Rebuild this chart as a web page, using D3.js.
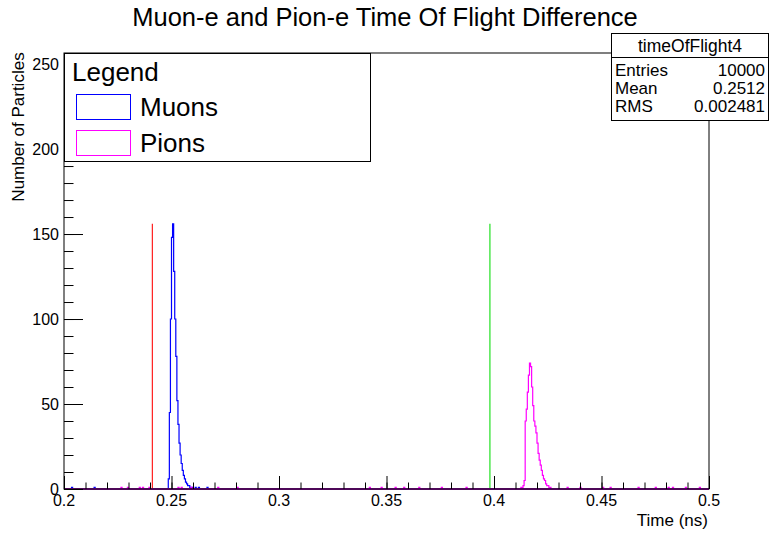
<!DOCTYPE html>
<html>
<head>
<meta charset="utf-8">
<script src="https://cdn.jsdelivr.net/npm/d3@7"></script>
<style>
  html, body { margin: 0; padding: 0; background: #fff; }
  svg { display: block; font-family: "Liberation Sans", Arial, Helvetica, sans-serif; }
</style>
</head>
<body>
<svg id="chart" width="773" height="533"></svg>
<script>
// ---------------- data ----------------
const binWidth = 0.0005;
const xDomain = [0.2, 0.5];
const yDomain = [0, 256.5];
const xMajorTicks = [0.2, 0.25, 0.3, 0.35, 0.4, 0.45, 0.5];
const xTickLabels = ["0.2", "0.25", "0.3", "0.35", "0.4", "0.45", "0.5"];
const yMajorTicks = [0, 50, 100, 150, 200, 250];
const yTickLabels = ["0", "50", "100", "150", "200", "250"];

// Muon histogram: bin low edges and counts
const muonTimes  = [0.2035, 0.2140, 0.2485, 0.2490, 0.2495, 0.2500, 0.2505, 0.2510, 0.2515, 0.2520,
                    0.2525, 0.2530, 0.2535, 0.2540, 0.2545, 0.2550, 0.2555, 0.2560, 0.2565, 0.2570,
                    0.2575, 0.2580, 0.2585, 0.2595, 0.2610, 0.2625, 0.2665];
const muonCounts = [1, 1, 6, 45, 100, 148, 156, 128, 100, 78,
                    52, 38, 27, 20, 15, 11, 8, 6, 4, 3,
                    2, 2, 1, 1, 1, 1, 1];

// Pion histogram: bin low edges and counts
const pionTimes  = [0.2265, 0.2295, 0.2350, 0.2365, 0.2395, 0.2530, 0.2545, 0.2590, 0.2715, 0.2805,
                    0.3420, 0.3475, 0.3540, 0.3580, 0.3650, 0.3755, 0.3870,
                    0.4125, 0.4130, 0.4135, 0.4140, 0.4145, 0.4150, 0.4155, 0.4160, 0.4165, 0.4170,
                    0.4175, 0.4180, 0.4185, 0.4190, 0.4195, 0.4200, 0.4205, 0.4210, 0.4215, 0.4220,
                    0.4225, 0.4230, 0.4235, 0.4240, 0.4245, 0.4250, 0.4255, 0.4260,
                    0.4340, 0.4400, 0.4505, 0.4540, 0.4670, 0.4750, 0.4810, 0.4830, 0.4890, 0.4955];
const pionCounts = [1, 1, 1, 1, 1, 1, 1, 1, 1, 1,
                    1, 1, 1, 1, 1, 1, 1,
                    1, 1, 2, 5, 40, 47, 57, 67, 74, 72,
                    60, 49, 40, 37, 33, 27, 21, 17, 14, 11,
                    8, 6, 5, 3, 2, 2, 1, 1,
                    1, 1, 1, 1, 1, 1, 1, 1, 1, 1];

// Vertical marker lines (red, green)
const markerTimes = [0.2411, 0.3981];
const markerHeight = 156;

const legendLabels = ["Muons", "Pions"];
const statsName = "timeOfFlight4";
const statsLabels = ["Entries", "Mean", "RMS"];
const statsValues = ["10000", "0.2512", "0.002481"];

// ---------------- layout ----------------
const svg = d3.select("#chart");
const frame = { left: 64, right: 709, top: 53, bottom: 489 };
const x = d3.scaleLinear().domain(xDomain).range([frame.left, frame.right]);
const y = d3.scaleLinear().domain(yDomain).range([frame.bottom, frame.top]);

// Build full histogram series
function fullSeries(times, counts) {
  const n = Math.round((xDomain[1] - xDomain[0]) / binWidth);
  const arr = new Array(n).fill(0);
  times.forEach((t, i) => {
    const idx = Math.round((t - xDomain[0]) / binWidth);
    if (idx >= 0 && idx < n) arr[idx] += counts[i];
  });
  const pts = arr.map((c, i) => [xDomain[0] + i * binWidth, c]);
  pts.push([xDomain[1], arr[n - 1]]);
  return pts;
}

const line = d3.line().x(d => x(d[0])).y(d => y(d[1])).curve(d3.curveStepAfter);

svg.append("rect").attr("x", 0).attr("y", 0).attr("width", 773).attr("height", 533).attr("fill", "#fff");

// histograms
svg.append("path").datum(fullSeries(muonTimes, muonCounts))
  .attr("d", line).attr("fill", "none").attr("stroke", "#0000ff").attr("stroke-width", 1.2);
svg.append("path").datum(fullSeries(pionTimes, pionCounts))
  .attr("d", line).attr("fill", "none").attr("stroke", "#ff00ff").attr("stroke-width", 1.2);

// marker lines
const markerColors = ["#ff2020", "#22e022"];
svg.selectAll(".marker").data(markerTimes).join("line")
  .attr("x1", d => x(d)).attr("x2", d => x(d))
  .attr("y1", y(0)).attr("y2", y(markerHeight))
  .attr("stroke", (d, i) => markerColors[i]).attr("stroke-width", 1.2);

// baseline (overlap of both histograms at zero)
svg.append("line").attr("x1", x(xDomain[0])).attr("x2", x(xDomain[1]))
  .attr("y1", y(0)).attr("y2", y(0)).attr("stroke", "#9a10b0").attr("stroke-width", 2);

// ---------- axes ----------
const xMinor = d3.range(0.2, 0.5001, 0.01);
const yMinor = d3.range(0, 256, 10);

const xAxis = d3.axisTop(x).tickValues(xMajorTicks).tickSize(13).tickFormat("");
const gx = svg.append("g").attr("transform", `translate(0,${frame.bottom})`).call(xAxis);
const xAxisMinor = d3.axisTop(x).tickValues(xMinor).tickSize(6.5).tickFormat("");
const gxm = svg.append("g").attr("transform", `translate(0,${frame.bottom})`).call(xAxisMinor);
[gx, gxm].forEach(g => { g.select(".domain").remove(); g.selectAll("line").attr("stroke", "#000"); });

svg.selectAll(".xlab").data(xMajorTicks).join("text")
  .attr("x", d => x(d)).attr("y", frame.bottom + 17)
  .attr("text-anchor", "middle").attr("font-size", 16).text((d, i) => xTickLabels[i]);

const yAxis = d3.axisRight(y).tickValues(yMajorTicks).tickSize(19).tickFormat("");
const gy = svg.append("g").attr("transform", `translate(${frame.left},0)`).call(yAxis);
const yAxisMinor = d3.axisRight(y).tickValues(yMinor).tickSize(9.5).tickFormat("");
const gym = svg.append("g").attr("transform", `translate(${frame.left},0)`).call(yAxisMinor);
[gy, gym].forEach(g => { g.select(".domain").remove(); g.selectAll("line").attr("stroke", "#000"); });

svg.selectAll(".ylab").data(yMajorTicks).join("text")
  .attr("x", frame.left - 5).attr("y", d => y(d) + 6)
  .attr("text-anchor", "end").attr("font-size", 16).text((d, i) => yTickLabels[i]);

// frame
svg.append("rect").attr("x", frame.left).attr("y", frame.top)
  .attr("width", frame.right - frame.left).attr("height", frame.bottom - frame.top)
  .attr("fill", "none").attr("stroke", "#000").attr("stroke-width", 1);

// axis titles
svg.append("text").attr("x", frame.right - 1).attr("y", 526).attr("text-anchor", "end")
  .attr("font-size", 17).text("Time (ns)");
svg.append("text").attr("transform", "translate(24,127) rotate(-90)")
  .attr("text-anchor", "middle").attr("font-size", 17).text("Number of Particles");

// title
svg.append("text").attr("x", 385).attr("y", 26).attr("text-anchor", "middle")
  .attr("font-size", 25.5).text("Muon-e and Pion-e Time Of Flight Difference");

// legend
const lg = svg.append("g");
lg.append("rect").attr("x", 64.5).attr("y", 53.5).attr("width", 306).attr("height", 108)
  .attr("fill", "#fff").attr("stroke", "#000");
lg.append("text").attr("x", 72).attr("y", 81).attr("font-size", 26).text("Legend");
const legendColors = ["#0000ff", "#ff00ff"];
legendLabels.forEach((lab, i) => {
  lg.append("rect").attr("x", 76.5).attr("y", 94.5 + i * 36).attr("width", 54).attr("height", 25)
    .attr("fill", "#fff").attr("stroke", legendColors[i]);
  lg.append("text").attr("x", 140).attr("y", 116 + i * 36).attr("font-size", 26).text(lab);
});

// stats box
const sb = svg.append("g");
sb.append("rect").attr("x", 611.5).attr("y", 33.5).attr("width", 157).attr("height", 87)
  .attr("fill", "#fff").attr("stroke", "#000");
sb.append("line").attr("x1", 611.5).attr("x2", 768.5).attr("y1", 57.5).attr("y2", 57.5).attr("stroke", "#000");
sb.append("text").attr("x", 690).attr("y", 52).attr("text-anchor", "middle").attr("font-size", 17.5).text(statsName);
statsLabels.forEach((lab, i) => {
  sb.append("text").attr("x", 615).attr("y", 76 + i * 18).attr("font-size", 17).text(lab);
  sb.append("text").attr("x", 765).attr("y", 76 + i * 18).attr("text-anchor", "end").attr("font-size", 17).text(statsValues[i]);
});
</script>
</body>
</html>
